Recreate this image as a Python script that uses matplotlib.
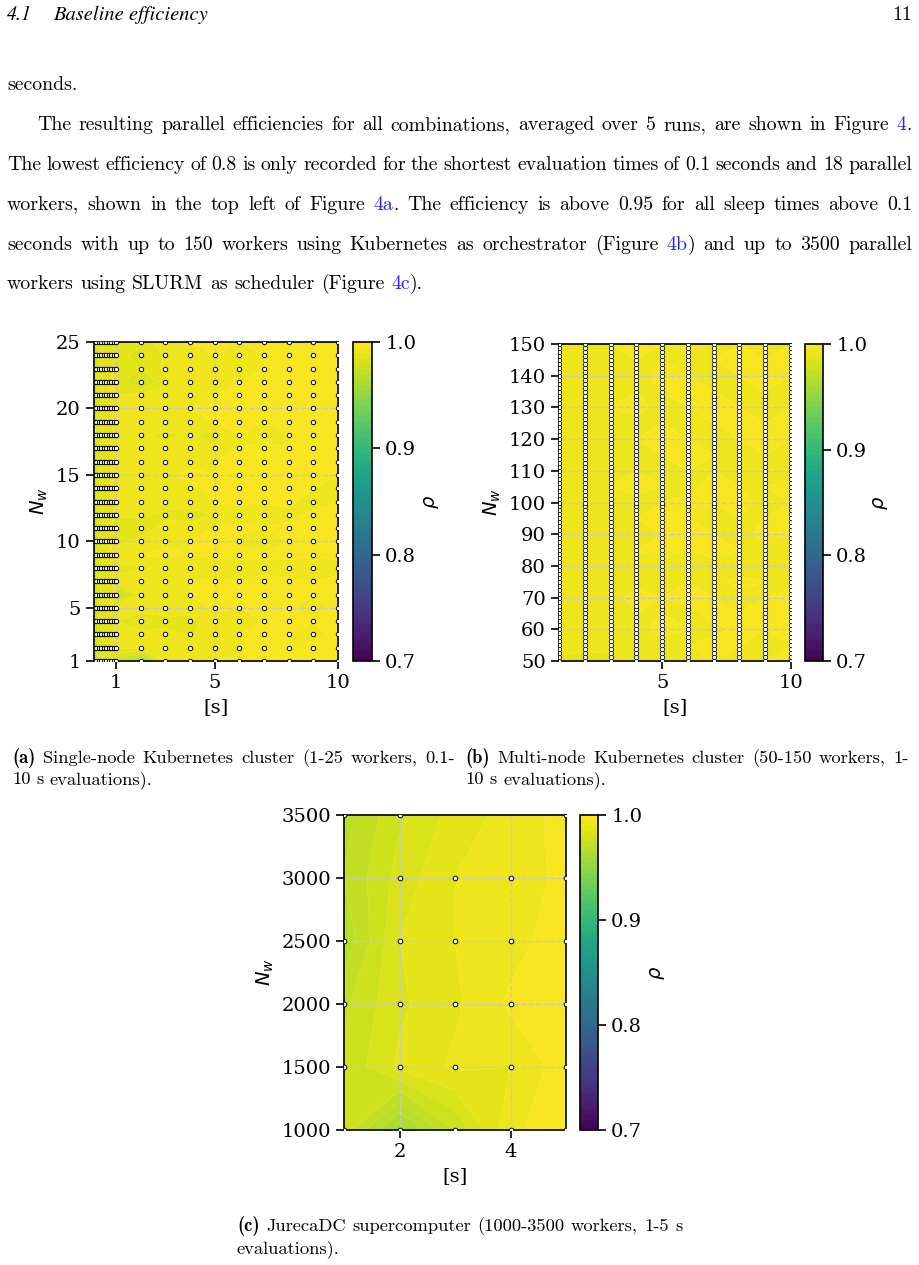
import re
import matplotlib
matplotlib.use('Agg')
import matplotlib.pyplot as plt
import numpy as np

W, H = 919, 1265
LINK = '#2222ff'

# ---- panel (a): single node, 0.1-10 s, 1-25 workers (efficiency x1000)
a_sleep = [0.1, 0.2, 0.3, 0.4, 0.5, 0.6, 0.7, 0.8, 0.9, 1.0, 2, 3, 4, 5, 6, 7, 8, 9, 10]
a_workers = list(range(1, 26))
a_eff = [
    [958, 973, 981, 985, 983, 988, 986, 989, 987, 978, 958, 990, 993, 995, 996, 995, 997, 996, 998],
    [965, 978, 983, 987, 985, 989, 988, 990, 988, 991, 993, 991, 993, 995, 994, 996, 995, 997, 998],
    [968, 979, 984, 986, 987, 988, 989, 988, 990, 991, 992, 993, 989, 995, 995, 996, 995, 993, 997],
    [966, 977, 982, 988, 986, 990, 987, 989, 988, 990, 983, 987, 988, 993, 995, 995, 996, 995, 997],
    [969, 980, 985, 987, 988, 989, 990, 991, 989, 992, 994, 995, 993, 996, 995, 997, 996, 992, 998],
    [967, 978, 983, 986, 987, 988, 989, 990, 989, 968, 993, 994, 995, 996, 995, 996, 997, 995, 997],
    [965, 979, 984, 987, 988, 989, 988, 990, 991, 991, 995, 994, 995, 996, 995, 997, 996, 995, 998],
    [968, 981, 985, 986, 989, 988, 990, 989, 990, 989, 989, 991, 990, 992, 991, 993, 992, 988, 991],
    [967, 980, 984, 988, 987, 989, 990, 991, 989, 992, 995, 996, 995, 996, 997, 996, 997, 996, 998],
    [963, 978, 983, 986, 987, 988, 989, 990, 989, 988, 992, 994, 995, 996, 994, 989, 995, 996, 997],
    [965, 979, 982, 987, 988, 989, 987, 990, 991, 985, 985, 993, 994, 995, 996, 995, 996, 995, 997],
    [968, 980, 985, 986, 988, 990, 989, 988, 990, 991, 991, 988, 985, 991, 993, 995, 994, 996, 997],
    [966, 978, 984, 987, 986, 989, 990, 991, 989, 990, 993, 994, 995, 995, 996, 995, 996, 993, 995],
    [969, 981, 983, 988, 987, 988, 989, 990, 991, 992, 994, 995, 994, 996, 995, 997, 996, 995, 990],
    [965, 979, 985, 986, 988, 989, 988, 991, 990, 991, 995, 994, 996, 995, 996, 995, 997, 996, 995],
    [963, 977, 983, 987, 986, 988, 990, 989, 991, 990, 993, 995, 994, 995, 996, 995, 996, 995, 998],
    [961, 978, 984, 986, 987, 989, 988, 990, 989, 991, 994, 992, 993, 991, 995, 996, 995, 996, 997],
    [800, 975, 983, 985, 988, 987, 989, 988, 990, 991, 991, 988, 991, 987, 995, 994, 995, 996, 997],
    [958, 977, 982, 987, 986, 988, 989, 990, 991, 990, 994, 995, 994, 995, 996, 995, 997, 996, 998],
    [961, 979, 984, 986, 988, 989, 987, 989, 990, 991, 993, 994, 995, 996, 995, 996, 995, 997, 997],
    [965, 978, 983, 987, 987, 988, 990, 991, 989, 990, 992, 993, 995, 995, 996, 995, 996, 995, 997],
    [963, 977, 982, 986, 988, 989, 988, 990, 991, 989, 977, 989, 993, 995, 995, 996, 995, 996, 997],
    [966, 979, 984, 987, 986, 988, 989, 989, 990, 988, 985, 991, 993, 994, 995, 995, 996, 995, 997],
    [964, 978, 983, 986, 988, 989, 988, 990, 989, 987, 983, 991, 994, 995, 990, 995, 996, 995, 998],
    [967, 980, 985, 987, 987, 989, 990, 989, 991, 988, 987, 993, 995, 996, 995, 996, 995, 997, 998],
]

# ---- panel (b): multi node, 1-10 s, 50-150 workers
b_sleep = [1, 2, 3, 4, 5, 6, 7, 8, 9, 10]
b_workers = list(np.arange(50, 150.1, 1.25))
b_rows = list(range(50, 151, 5))
b_eff = [
    [989, 985, 987, 993, 995, 994, 995, 993, 995, 996],
    [992, 994, 993, 995, 994, 995, 996, 995, 994, 995],
    [991, 993, 995, 994, 996, 995, 994, 996, 995, 996],
    [990, 995, 993, 995, 995, 994, 996, 995, 996, 995],
    [992, 993, 994, 996, 995, 996, 995, 994, 995, 996],
    [991, 994, 995, 994, 993, 995, 994, 996, 995, 994],
    [990, 993, 992, 993, 994, 993, 994, 993, 995, 993],
    [992, 995, 994, 995, 996, 995, 996, 995, 994, 995],
    [991, 994, 995, 994, 995, 996, 995, 994, 996, 995],
    [992, 993, 994, 995, 996, 995, 994, 995, 995, 996],
    [990, 995, 993, 994, 995, 996, 995, 996, 994, 995],
    [991, 994, 995, 996, 995, 994, 996, 995, 995, 996],
    [992, 993, 994, 995, 994, 995, 995, 994, 993, 994],
    [991, 994, 995, 994, 995, 996, 995, 988, 995, 995],
    [990, 993, 994, 995, 996, 995, 994, 995, 996, 995],
    [992, 995, 993, 994, 995, 994, 995, 996, 995, 996],
    [991, 994, 995, 996, 994, 995, 996, 995, 994, 995],
    [990, 993, 994, 995, 995, 996, 995, 994, 995, 994],
    [992, 994, 995, 994, 996, 995, 994, 995, 996, 995],
    [991, 995, 994, 995, 995, 994, 995, 996, 995, 996],
    [990, 994, 995, 996, 995, 996, 995, 995, 994, 995],
]

# ---- panel (c): JurecaDC, 1-5 s, 1000-3500 workers
c_sleep = [1, 2, 3, 4, 5]
c_workers = [1000, 1500, 2000, 2500, 3000, 3500]
c_eff = [
    [978, 957, 975, 994, 998],
    [976, 986, 991, 990, 998],
    [974, 984, 989, 996, 998],
    [966, 985, 990, 993, 998],
    [970, 982, 990, 991, 997],
    [968, 979, 987, 992, 997],
]
# measured points that appear as markers
c_pts_x = [1, 2, 5, 2, 3, 4, 5, 1, 2, 3, 4, 5, 1, 2, 3, 4, 5, 1, 2, 3, 4, 5, 1, 2, 3, 4, 5]
c_pts_y = [3500, 3500, 3500, 3000, 3000, 3000, 3000, 2500, 2500, 2500, 2500, 2500,
           2000, 2000, 2000, 2000, 2000, 1500, 1500, 1500, 1500, 1500,
           1000, 1000, 1000, 1000, 1000]

plt.rcParams['font.family'] = 'DejaVu Serif'
plt.rcParams['font.size'] = 14

fig = plt.figure(figsize=(W / 100, H / 100), dpi=100)
rend = fig.canvas.get_renderer()


def box(l, t, r, b):
    return [l / W, 1 - b / H, (r - l) / W, (b - t) / H]


levels = np.linspace(0.7, 1.0, 61)


def panel(rect, cbrect, xs, ys, eff, px, py, xt, yt, ms=9, mlw=0.7, lpad=5):
    ax = fig.add_axes(box(*rect))
    z = np.array(eff) / 1000.0
    cs = ax.contourf(xs, ys, z, levels=levels, cmap='viridis', vmin=0.7, vmax=1.0)
    ax.contour(xs, ys, z, levels=levels, colors='white', linewidths=0.3, alpha=0.2)
    ax.scatter(px, py, s=ms, facecolor='white', edgecolor='black',
               linewidths=mlw, zorder=3)
    ax.set_xlim(xs[0], xs[-1])
    ax.set_ylim(ys[0], ys[-1])
    ax.set_xticks(xt)
    ax.set_yticks(yt)
    ax.grid(True, ls='--', color='#c8c8c8', lw=1)
    ax.tick_params(length=6, width=1.2)
    for sp in ax.spines.values():
        sp.set_linewidth(1.2)
    ax.set_xlabel('[s]')
    ax.set_ylabel(r'$N_w$')
    cax = fig.add_axes(box(*cbrect))
    cb = fig.colorbar(cs, cax=cax, ticks=[0.7, 0.8, 0.9, 1.0])
    cb.outline.set_linewidth(1.2)
    cax.tick_params(length=6, width=1.2)
    cb.set_label(r'$\rho$', labelpad=lpad)
    return ax


ga_x, ga_y = np.meshgrid(a_sleep, a_workers)
panel((94, 342, 338, 661), (353, 342, 372, 661), a_sleep, a_workers, a_eff,
      ga_x.ravel(), ga_y.ravel(), [1, 5, 10], [1, 5, 10, 15, 20, 25], ms=10, lpad=4)
gb_x, gb_y = np.meshgrid(b_sleep, b_workers)
panel((559, 344, 791, 661), (805, 344, 823, 661), b_sleep, b_rows, b_eff,
      gb_x.ravel(), gb_y.ravel(), [5, 10], list(range(50, 151, 10)), ms=10, mlw=0.55,
      lpad=3)
panel((344, 815, 566, 1130), (580, 815, 598, 1130), c_sleep, c_workers, c_eff,
      c_pts_x, c_pts_y, [2, 4], c_workers, ms=11, lpad=4)


# ---- page text
def width(s, fam, size):
    t = fig.text(0, 0, s, fontsize=size, family=fam)
    w = t.get_window_extent(renderer=rend).width
    t.remove()
    return w


def parse(line):
    words = []
    for w in line.split(' '):
        segs = []
        for part in re.split(r'(\{[^}]*\}|\[[^\]]*\])', w):
            if not part:
                continue
            if part[0] == '{':
                segs.append((part[1:-1], LINK, 'cmr10'))
            elif part[0] == '[':
                segs.append((part[1:-1], 'black', 'cmb10'))
            else:
                segs.append((part, 'black', 'cmr10'))
        words.append(segs)
    return words


def put(line, x0, y, size, x1=None):
    words = parse(line)
    ws = [sum(width(s, f, size) for s, c, f in wd) for wd in words]
    if x1 is not None and len(words) > 1:
        gap = (x1 - x0 - sum(ws)) / (len(words) - 1)
    else:
        gap = width('a a', 'cmr10', size) - width('aa', 'cmr10', size)
    x = x0
    for wd, wdw in zip(words, ws):
        xx = x
        for s, c, f in wd:
            fig.text(xx / W, 1 - y / H, s, fontsize=size, family=f, color=c,
                     va='baseline', ha='left')
            xx += width(s, f, size)
        x += wdw + gap


fig.text(7 / W, 1 - 20 / H, '4.1', fontsize=14.3, family='STIXGeneral', style='italic',
         va='baseline')
fig.text(53 / W, 1 - 20 / H, 'Baseline efficiency', fontsize=14.8, family='STIXGeneral',
         style='italic', va='baseline')
fig.text(912 / W, 1 - 20 / H, '11', fontsize=14.3, family='cmr10', va='baseline', ha='right')

BS = 14.3
put('seconds.', 7, 90, BS)
put('The resulting parallel efficiencies for all combinations, averaged over 5 runs, '
    'are shown in Figure {4}.', 37, 130, BS, 912)
put('The lowest efficiency of 0.8 is only recorded for the shortest evaluation times '
    'of 0.1 seconds and 18 parallel', 7, 170, BS, 912)
put('workers, shown in the top left of Figure {4a}. The efficiency is above 0.95 for '
    'all sleep times above 0.1', 7, 210, BS, 912)
put('seconds with up to 150 workers using Kubernetes as orchestrator (Figure {4b}) '
    'and up to 3500 parallel', 7, 250, BS, 912)
put('workers using SLURM as scheduler (Figure {4c}).', 7, 289, BS)

CS = 13.3
put('[(a)] Single-node Kubernetes cluster (1-25 workers, 0.1-', 12, 763, CS, 455)
put('10 s evaluations).', 12, 784, CS)
put('[(b)] Multi-node Kubernetes cluster (50-150 workers, 1-', 465, 763, CS, 909)
put('10 s evaluations).', 465, 784, CS)
put('[(c)] JurecaDC supercomputer (1000-3500 workers, 1-5 s', 237, 1231, CS, 683)
put('evaluations).', 237, 1253, CS)

fig.savefig('out.png', dpi=100)
